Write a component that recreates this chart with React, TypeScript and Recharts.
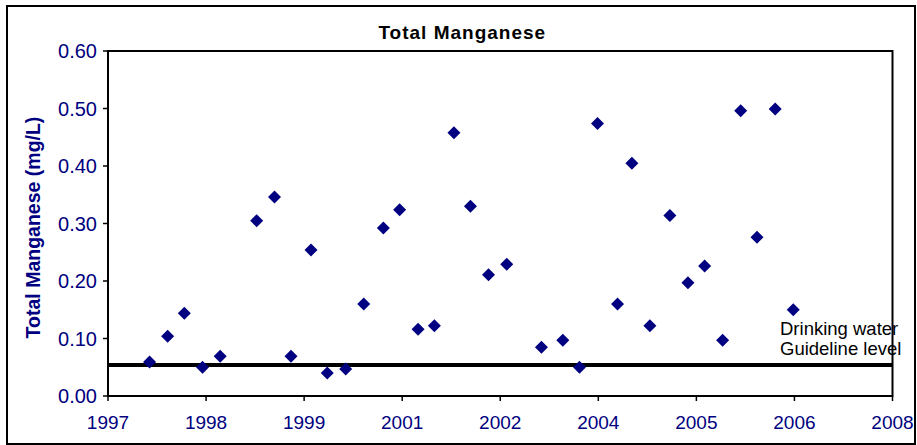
import React from "react";
import {
  ScatterChart,
  Scatter,
  XAxis,
  YAxis,
  ReferenceLine,
  ReferenceArea,
} from "recharts";

// Days since axis start (axis runs 0..4000 days, major unit 500 days)
const sampleDays = [
  212, 304, 389, 482, 572, 758, 849, 933, 1035, 1118, 1212, 1304, 1404, 1487,
  1581, 1664, 1764, 1848, 1940, 2033, 2210, 2319, 2404, 2496, 2598, 2671, 2763,
  2865, 2957, 3042, 3134, 3226, 3309, 3402, 3494,
];
// Total manganese (mg/L)
const manganese = [
  0.059, 0.104, 0.144, 0.05, 0.069, 0.305, 0.346, 0.069, 0.254, 0.04, 0.047,
  0.16, 0.292, 0.324, 0.116, 0.122, 0.458, 0.33, 0.211, 0.229, 0.085, 0.097,
  0.05, 0.474, 0.16, 0.405, 0.122, 0.314, 0.197, 0.226, 0.097, 0.496, 0.276,
  0.499, 0.15,
];
const xTicks = [0, 500, 1000, 1500, 2000, 2500, 3000, 3500, 4000];
const xTickLabels = [
  "1997", "1998", "1999", "2001", "2002", "2004", "2005", "2006", "2008",
];
const yTicks = [0, 0.1, 0.2, 0.3, 0.4, 0.5, 0.6];
const GUIDELINE = 0.054;
const TITLE = "Total Manganese";
const Y_LABEL = "Total Manganese (mg/L)";
const GUIDE_LINE1 = "Drinking water";
const GUIDE_LINE2 = "Guideline level";

const data = sampleDays.map((d, i) => ({ day: d, mn: manganese[i] }));

const FONT = "'Liberation Sans', Arial, sans-serif";
const NAVY = "#000080";

const Diamond = (props: any) => {
  const { cx, cy } = props;
  if (cx == null || cy == null) return null;
  const r = 6.5;
  return (
    <polygon
      points={`${cx},${cy - r} ${cx + r},${cy} ${cx},${cy + r} ${cx - r},${cy}`}
      fill={NAVY}
    />
  );
};

export default function App() {
  return (
    <div style={{ position: "absolute", left: 0, top: 0, width: 917, height: 445 }}>
      <div
        style={{
          position: "absolute",
          left: 6,
          top: 5,
          width: 910,
          height: 440,
          border: "2px solid #000",
          boxSizing: "border-box",
        }}
      />
      <div style={{ position: "absolute", left: 0, top: 0 }}>
        <ScatterChart
          width={917}
          height={445}
          margin={{ top: 51, right: 24.5, left: 8, bottom: 0 }}
        >
          <XAxis
            dataKey="day"
            type="number"
            domain={[0, 4000]}
            ticks={xTicks}
            interval={0}
            tickFormatter={(v: number, i: number) => xTickLabels[i] ?? ""}
            height={49}
            axisLine={{ stroke: "#000", strokeWidth: 2 }}
            tickLine={{ stroke: "#000", strokeWidth: 1.5 }}
            tickSize={5}
            tickMargin={15}
            tick={{ fill: NAVY, fontSize: 19, fontFamily: FONT }}
          />
          <YAxis
            dataKey="mn"
            type="number"
            domain={[0, 0.6]}
            ticks={yTicks}
            interval={0}
            tickFormatter={(v: number) => v.toFixed(2)}
            width={100}
            axisLine={{ stroke: "#000", strokeWidth: 2 }}
            tickLine={{ stroke: "#000", strokeWidth: 1.5 }}
            tickSize={5}
            tickMargin={6}
            tick={{ fill: NAVY, fontSize: 20, fontFamily: FONT }}
            label={{
              content: () => (
                <text
                  transform="translate(40, 227.5) rotate(-90)"
                  x={0}
                  y={0}
                  textAnchor="middle"
                  fontFamily={FONT}
                  fontWeight="bold"
                  fontSize={19.5}
                  fill={NAVY}
                >
                  {Y_LABEL}
                </text>
              ),
            }}
          />
          <ReferenceArea
            x1={0}
            x2={4000}
            y1={0}
            y2={0.6}
            fill="none"
            fillOpacity={0}
            stroke="#000"
            strokeWidth={2}
            ifOverflow="visible"
            label={{
              content: (p: any) => {
                const vb = p.viewBox || {};
                const cx = (vb.x ?? 0) + (vb.width ?? 0) / 2;
                return (
                  <text
                    x={cx - 38}
                    y={(vb.y ?? 0) - 12}
                    textAnchor="middle"
                    fontFamily={FONT}
                    fontWeight="bold"
                    fontSize={19}
                    letterSpacing={1}
                    fill="#000"
                  >
                    {TITLE}
                  </text>
                );
              },
            }}
          />
          <ReferenceLine
            y={GUIDELINE}
            stroke="#000"
            strokeWidth={4}
            ifOverflow="extendDomain"
            label={{
              content: (p: any) => {
                const vb = p.viewBox || {};
                const right = (vb.x ?? 0) + (vb.width ?? 0);
                const y = vb.y ?? 0;
                return (
                  <text fontFamily={FONT} fontSize={18.5} fill="#000">
                    <tspan x={right - 112.5} y={y - 30}>
                      {GUIDE_LINE1}
                    </tspan>
                    <tspan x={right - 112.5} y={y - 10}>
                      {GUIDE_LINE2}
                    </tspan>
                  </text>
                );
              },
            }}
          />
          <Scatter data={data} shape={Diamond} isAnimationActive={false} />
        </ScatterChart>
      </div>
    </div>
  );
}
